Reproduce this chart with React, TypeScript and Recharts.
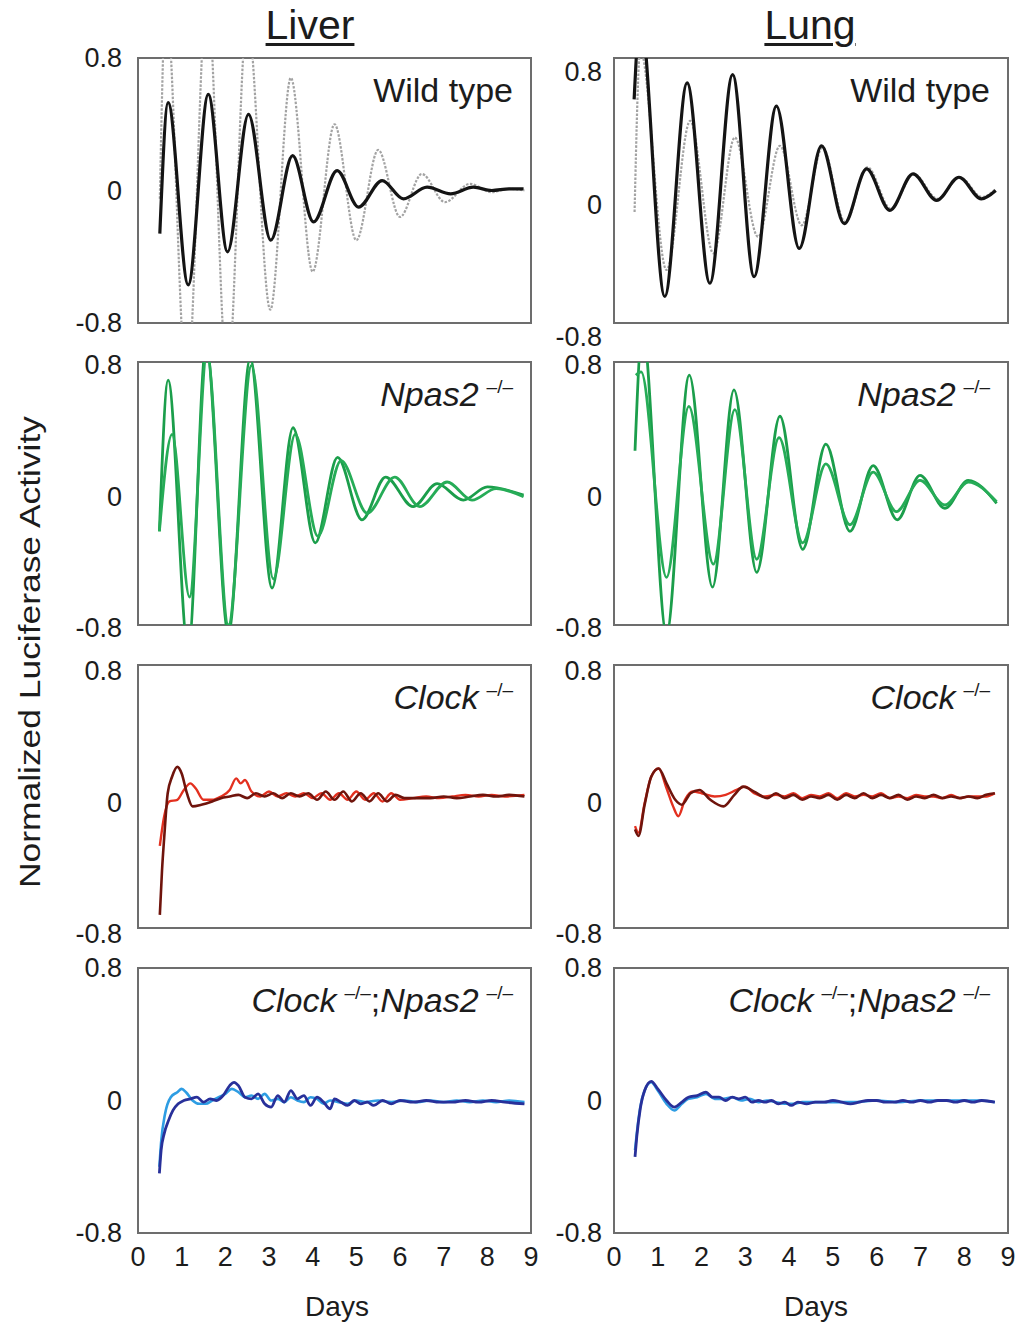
import React from "react";
import { LineChart, Line, XAxis, YAxis, ReferenceArea } from "recharts";

// [day, normalized value]
const LIVER_WT_GRAY = [[0.5,-0.05],[0.64,1.15],[1.12,-1.2],[1.58,1.2],[2.05,-1.15],[2.5,1.05],[3.03,-0.72],[3.5,0.68],[4.0,-0.49],[4.5,0.4],[5.0,-0.3],[5.5,0.245],[6.0,-0.16],[6.5,0.1],[7.03,-0.07],[7.6,0.04],[8.1,-0.01],[8.5,0.01],[8.85,0.0]];
const LIVER_WT_BLACK = [[0.5,-0.26],[0.69,0.53],[1.15,-0.57],[1.61,0.58],[2.05,-0.37],[2.53,0.46],[3.04,-0.3],[3.54,0.21],[4.02,-0.19],[4.56,0.12],[5.05,-0.1],[5.59,0.06],[6.08,-0.05],[6.62,0.02],[7.16,-0.02],[7.68,0.02],[8.1,0.0],[8.5,0.01],[8.83,0.01]];

const LUNG_WT_GRAY = [[0.47,-0.13],[0.6,0.85],[1.2,-0.48],[1.74,0.42],[2.27,-0.38],[2.76,0.32],[3.29,-0.28],[3.79,0.27],[4.29,-0.21],[4.76,0.26],[5.28,-0.19],[5.79,0.14],[6.32,-0.11],[6.85,0.1],[7.39,-0.05],[7.9,0.08],[8.41,-0.04],[8.72,0.01]];
const LUNG_WT_BLACK = [[0.46,0.55],[0.6,1.05],[1.16,-0.64],[1.67,0.65],[2.19,-0.56],[2.71,0.7],[3.2,-0.52],[3.71,0.51],[4.23,-0.35],[4.74,0.27],[5.26,-0.2],[5.77,0.13],[6.3,-0.12],[6.83,0.1],[7.37,-0.06],[7.88,0.08],[8.39,-0.05],[8.72,0.0]];

const LIVER_NPAS2_A = [[0.49,-0.23],[0.69,0.69],[1.15,-0.95],[1.56,0.9],[2.07,-0.85],[2.57,0.82],[3.07,-0.575],[3.55,0.4],[4.06,-0.3],[4.57,0.22],[5.13,-0.16],[5.67,0.1],[6.3,-0.08],[6.85,0.06],[7.45,-0.04],[8.0,0.04],[8.83,-0.01]];
const LIVER_NPAS2_B = [[0.49,-0.23],[0.78,0.36],[1.18,-0.63],[1.58,0.85],[2.07,-0.8],[2.6,0.78],[3.1,-0.52],[3.6,0.36],[4.12,-0.26],[4.65,0.2],[5.25,-0.12],[5.88,0.1],[6.45,-0.08],[7.08,0.07],[7.65,-0.04],[8.2,0.03],[8.83,-0.02]];

const LUNG_NPAS2_A = [[0.48,0.26],[0.65,1.0],[1.2,-0.85],[1.72,0.72],[2.25,-0.57],[2.74,0.63],[3.26,-0.48],[3.79,0.47],[4.31,-0.34],[4.84,0.3],[5.39,-0.23],[5.92,0.17],[6.47,-0.16],[6.99,0.11],[7.56,-0.09],[8.09,0.08],[8.74,-0.06]];
const LUNG_NPAS2_B = [[0.5,0.72],[0.62,0.74],[1.2,-0.51],[1.71,0.53],[2.27,-0.43],[2.76,0.51],[3.26,-0.4],[3.77,0.34],[4.31,-0.3],[4.84,0.18],[5.39,-0.19],[5.92,0.13],[6.45,-0.11],[6.99,0.08],[7.56,-0.07],[8.09,0.07],[8.74,-0.05]];

const LIVER_CLOCK_RED = [[0.5,-0.3],[0.6,-0.12],[0.72,-0.03],[0.9,-0.02],[1.05,0.04],[1.2,0.08],[1.32,0.05],[1.5,-0.02],[1.7,-0.02],[1.9,0.0],[2.1,0.04],[2.25,0.11],[2.35,0.08],[2.45,0.1],[2.6,0.03],[2.8,0.0],[3.0,0.03],[3.2,0.0],[3.4,0.02],[3.6,0.0],[3.8,0.02],[4.0,-0.01],[4.2,0.02],[4.4,-0.02],[4.6,0.02],[4.8,-0.02],[5.0,0.03],[5.2,-0.02],[5.4,0.02],[5.6,-0.03],[5.8,0.02],[6.0,-0.02],[6.3,-0.01],[6.6,0.0],[6.9,-0.01],[7.2,0.0],[7.5,0.01],[7.8,0.0],[8.1,0.01],[8.4,0.0],[8.85,0.01]];
const LIVER_CLOCK_DARK = [[0.5,-0.72],[0.55,-0.45],[0.6,-0.25],[0.68,0.02],[0.78,0.12],[0.9,0.18],[1.0,0.14],[1.12,0.02],[1.25,-0.06],[1.45,-0.05],[1.7,-0.03],[1.9,-0.01],[2.1,0.0],[2.3,0.01],[2.5,-0.01],[2.7,0.02],[2.9,0.0],[3.1,0.02],[3.3,-0.01],[3.5,0.02],[3.7,0.0],[3.9,0.02],[4.1,-0.02],[4.3,0.03],[4.5,-0.02],[4.7,0.03],[4.9,-0.03],[5.1,0.02],[5.3,-0.03],[5.5,0.02],[5.7,-0.03],[5.9,0.01],[6.1,-0.01],[6.4,-0.01],[6.7,-0.01],[7.0,0.0],[7.3,-0.01],[7.6,0.0],[7.9,0.01],[8.2,0.0],[8.5,0.01],[8.85,0.0]];

const LUNG_CLOCK_RED = [[0.48,-0.18],[0.56,-0.22],[0.7,-0.04],[0.85,0.12],[1.02,0.17],[1.2,0.05],[1.35,-0.06],[1.47,-0.12],[1.62,-0.02],[1.8,0.03],[2.0,0.02],[2.3,0.0],[2.55,0.01],[2.8,0.04],[3.0,0.06],[3.2,0.02],[3.45,0.0],[3.7,0.01],[3.9,0.0],[4.1,0.02],[4.3,-0.01],[4.5,0.01],[4.7,0.0],[4.9,0.02],[5.1,-0.01],[5.3,0.02],[5.5,0.0],[5.7,0.01],[5.9,0.0],[6.1,0.02],[6.3,-0.01],[6.5,0.0],[6.7,-0.01],[6.9,0.01],[7.1,0.0],[7.3,0.0],[7.5,-0.01],[7.7,0.01],[7.9,-0.01],[8.1,0.0],[8.3,0.0],[8.5,0.0],[8.7,0.02]];
const LUNG_CLOCK_DARK = [[0.48,-0.2],[0.56,-0.24],[0.7,-0.05],[0.85,0.12],[1.02,0.17],[1.2,0.08],[1.4,-0.02],[1.55,-0.05],[1.75,0.02],[1.95,0.04],[2.2,-0.02],[2.5,-0.06],[2.75,0.01],[2.95,0.06],[3.2,0.03],[3.5,-0.01],[3.7,0.02],[3.9,-0.01],[4.1,0.01],[4.3,-0.02],[4.5,0.0],[4.7,-0.01],[4.9,0.01],[5.1,-0.02],[5.3,0.01],[5.5,-0.01],[5.7,0.02],[5.9,-0.01],[6.1,0.01],[6.3,-0.01],[6.5,0.01],[6.7,-0.02],[6.9,0.0],[7.1,-0.01],[7.3,0.01],[7.5,-0.01],[7.7,0.0],[7.9,-0.01],[8.1,0.0],[8.3,-0.01],[8.5,0.01],[8.7,0.02]];

const LIVER_DKO_LIGHT = [[0.49,-0.4],[0.53,-0.25],[0.62,-0.08],[0.75,0.02],[0.9,0.05],[1.0,0.07],[1.1,0.05],[1.25,0.0],[1.4,-0.02],[1.55,-0.02],[1.7,0.0],[1.85,0.02],[2.0,0.04],[2.15,0.07],[2.3,0.05],[2.45,0.02],[2.6,0.03],[2.75,0.01],[2.9,0.04],[3.05,0.0],[3.2,0.01],[3.35,-0.01],[3.5,0.02],[3.65,0.0],[3.8,-0.01],[3.95,0.02],[4.1,0.01],[4.25,-0.02],[4.4,0.0],[4.6,-0.01],[4.8,-0.02],[5.0,0.0],[5.2,-0.01],[5.5,0.0],[5.8,-0.01],[6.1,0.0],[6.4,-0.01],[6.7,0.0],[7.0,-0.01],[7.3,0.0],[7.6,-0.01],[7.9,0.0],[8.2,-0.01],[8.5,0.0],[8.85,-0.01]];
const LIVER_DKO_DARK = [[0.49,-0.44],[0.53,-0.3],[0.6,-0.2],[0.7,-0.12],[0.8,-0.06],[0.92,-0.02],[1.05,0.0],[1.2,0.01],[1.35,0.02],[1.5,-0.01],[1.65,0.01],[1.8,0.0],[1.95,0.03],[2.1,0.09],[2.2,0.11],[2.3,0.09],[2.45,0.02],[2.6,0.01],[2.75,0.04],[2.9,-0.02],[3.05,-0.04],[3.2,0.03],[3.35,-0.01],[3.5,0.06],[3.65,0.01],[3.8,0.03],[3.95,-0.03],[4.1,0.02],[4.25,-0.01],[4.4,-0.05],[4.5,0.01],[4.65,-0.01],[4.8,-0.03],[4.95,0.0],[5.1,-0.02],[5.25,-0.01],[5.4,-0.03],[5.6,0.0],[5.8,-0.02],[6.0,0.0],[6.3,-0.01],[6.6,0.0],[6.9,-0.01],[7.2,-0.01],[7.5,0.0],[7.8,-0.01],[8.1,0.0],[8.4,-0.01],[8.85,-0.02]];

const LUNG_DKO_LIGHT = [[0.48,-0.3],[0.52,-0.2],[0.6,-0.04],[0.7,0.06],[0.85,0.11],[1.0,0.06],[1.2,-0.02],[1.38,-0.06],[1.55,-0.02],[1.7,0.01],[1.9,0.02],[2.1,0.04],[2.3,0.01],[2.5,0.01],[2.7,0.02],[2.9,0.0],[3.1,0.01],[3.3,-0.01],[3.5,0.0],[3.7,-0.01],[3.9,-0.02],[4.1,-0.02],[4.3,-0.01],[4.6,-0.01],[5.0,-0.01],[5.5,-0.01],[6.0,0.0],[6.5,-0.01],[7.0,0.0],[7.5,0.0],[8.0,0.0],[8.4,0.0],[8.7,-0.01]];
const LUNG_DKO_DARK = [[0.48,-0.34],[0.52,-0.22],[0.6,-0.05],[0.7,0.06],[0.85,0.115],[1.0,0.07],[1.2,0.0],[1.38,-0.04],[1.55,-0.01],[1.7,0.02],[1.9,0.03],[2.1,0.05],[2.25,0.02],[2.4,0.02],[2.55,0.0],[2.7,0.02],[2.85,0.01],[3.0,0.02],[3.15,-0.01],[3.3,0.0],[3.45,-0.01],[3.6,0.0],[3.75,-0.02],[3.9,-0.01],[4.05,-0.03],[4.2,-0.01],[4.4,-0.02],[4.6,-0.01],[4.8,-0.01],[5.0,0.0],[5.2,-0.01],[5.4,-0.02],[5.6,-0.01],[5.8,0.0],[6.0,0.0],[6.2,-0.01],[6.4,-0.01],[6.6,0.0],[6.8,-0.01],[7.0,0.0],[7.2,-0.01],[7.4,0.0],[7.6,0.0],[7.8,-0.01],[8.0,0.0],[8.2,-0.01],[8.4,0.0],[8.7,-0.01]];

const DAY_TICKS = [0, 1, 2, 3, 4, 5, 6, 7, 8, 9];
const Y_TICKS = [-0.8, 0, 0.8];

const FONT = "'Liberation Sans', Arial, Helvetica, sans-serif";
const FRAME = "#6d6d6d";
const TXT = "#1c1c1c";

const toPts = (arr: number[][]) => arr.map(([d, v]) => ({ d, v }));

const Sup = () => (
  <span style={{ fontSize: 19, position: "relative", top: -13, marginLeft: 8, fontStyle: "normal" }}>–/–</span>
);

const LABELS: Record<string, React.ReactNode> = {
  wt: <span>Wild type</span>,
  npas2: <span><i>Npas2</i><Sup /></span>,
  clock: <span><i>Clock</i><Sup /></span>,
  dko: <span><i>Clock</i><Sup />;<i>Npas2</i><Sup /></span>,
};

const COL_X = [138, 614];
const COL_W = [393, 394];
const ROW_Y = [58, 362, 665, 968];
const ROW_H = [265, 263, 263, 265];

const GRAY = { color: "#a3a3a3", width: 2.2, dash: "2.5 1.5" };
const BLACK = { color: "#141414", width: 3.2 };
const GREEN_A = { color: "#1b9e4b", width: 2.8 };
const GREEN_B = { color: "#26ac57", width: 2.8 };
const RED = { color: "#e3301f", width: 2.4 };
const DARKRED = { color: "#6f140c", width: 2.6 };
const LIGHTBLUE = { color: "#2e9de3", width: 2.6 };
const DARKBLUE = { color: "#28309a", width: 2.8 };

const PANELS = [
  { col: 0, row: 0, label: "wt", dy: 0, series: [{ data: LIVER_WT_GRAY, ...GRAY }, { data: LIVER_WT_BLACK, ...BLACK }] },
  { col: 1, row: 0, label: "wt", dy: 14, series: [{ data: LUNG_WT_GRAY, ...GRAY }, { data: LUNG_WT_BLACK, ...BLACK }] },
  { col: 0, row: 1, label: "npas2", dy: 3, series: [{ data: LIVER_NPAS2_A, ...GREEN_A }, { data: LIVER_NPAS2_B, ...GREEN_B }] },
  { col: 1, row: 1, label: "npas2", dy: 3, series: [{ data: LUNG_NPAS2_A, ...GREEN_A }, { data: LUNG_NPAS2_B, ...GREEN_B }] },
  { col: 0, row: 2, label: "clock", dy: 6, series: [{ data: LIVER_CLOCK_RED, ...RED }, { data: LIVER_CLOCK_DARK, ...DARKRED }] },
  { col: 1, row: 2, label: "clock", dy: 6, series: [{ data: LUNG_CLOCK_RED, ...RED }, { data: LUNG_CLOCK_DARK, ...DARKRED }] },
  { col: 0, row: 3, label: "dko", dy: 0, series: [{ data: LIVER_DKO_LIGHT, ...LIGHTBLUE }, { data: LIVER_DKO_DARK, ...DARKBLUE }] },
  { col: 1, row: 3, label: "dko", dy: 0, series: [{ data: LUNG_DKO_LIGHT, ...LIGHTBLUE }, { data: LUNG_DKO_DARK, ...DARKBLUE }] },
];

const fmtY = (v: number) => (v === 0 ? "0" : v.toFixed(1));

function Panel({ p }: { p: any }) {
  const x = COL_X[p.col];
  const w = COL_W[p.col];
  const y = ROW_Y[p.row];
  const h = ROW_H[p.row];
  const bottom = p.row === 3;
  const mL = 100;
  const mT = 26;
  const mR = 14;
  const mB = 26;
  const xH = bottom ? 50 : 0;
  const chartH = mT + h + xH + mB;

  return (
    <div style={{ position: "absolute", left: x - mL, top: y - mT }}>
      <LineChart width={mL + w + mR} height={chartH} margin={{ top: mT, right: mR, bottom: mB, left: 0 }}>
        <XAxis
          dataKey="d"
          type="number"
          domain={[0, 9]}
          ticks={DAY_TICKS}
          allowDataOverflow
          height={xH}
          tickLine={false}
          tickSize={4}
          tickMargin={4}
          axisLine={{ stroke: FRAME, strokeWidth: 2 }}
          tick={
            bottom
              ? (t: any) => (
                  <text x={t.x} y={t.y + 16} textAnchor="middle" dominantBaseline="central" fontSize={27} fontFamily={FONT} fill={TXT}>
                    {t.payload.value}
                  </text>
                )
              : false
          }
        />
        <YAxis
          type="number"
          domain={[-0.8, 0.8]}
          ticks={Y_TICKS}
          allowDataOverflow
          width={mL}
          tickLine={false}
          tickSize={6}
          tickMargin={p.col === 0 ? 10 : 6}
          axisLine={{ stroke: FRAME, strokeWidth: 2 }}
          tick={(t: any) => (
            <text x={t.x} y={t.y + p.dy} textAnchor="end" dominantBaseline="central" fontSize={27} fontFamily={FONT} fill={TXT}>
              {fmtY(t.payload.value)}
            </text>
          )}
        />
        {p.series.map((s: any, i: number) => (
          <Line
            key={i}
            data={toPts(s.data)}
            dataKey="v"
            type="monotone"
            stroke={s.color}
            strokeWidth={s.width}
            strokeDasharray={s.dash}
            dot={false}
            isAnimationActive={false}
          />
        ))}
        <ReferenceArea x1={0} x2={9} y1={-0.8} y2={0.8} fill="none" fillOpacity={0} stroke={FRAME} strokeWidth={2} />
      </LineChart>
      <div
        style={{
          position: "absolute",
          right: mR + 18,
          top: mT + 12,
          fontSize: 34,
          lineHeight: "40px",
          fontFamily: FONT,
          color: TXT,
          whiteSpace: "nowrap",
        }}
      >
        {LABELS[p.label]}
      </div>
    </div>
  );
}

export default function App() {
  return (
    <div style={{ position: "absolute", left: 0, top: 0, width: 1024, height: 1326, background: "#fff", fontFamily: FONT, color: TXT }}>
      <div style={{ position: "absolute", left: 310, top: 2, transform: "translateX(-50%)", fontSize: 41, lineHeight: "46px", textDecoration: "underline", textUnderlineOffset: 4, textDecorationThickness: 3 }}>
        Liver
      </div>
      <div style={{ position: "absolute", left: 810, top: 2, transform: "translateX(-50%)", fontSize: 41, lineHeight: "46px", textDecoration: "underline", textUnderlineOffset: 4, textDecorationThickness: 3 }}>
        Lung
      </div>
      <div style={{ position: "absolute", left: 30, top: 652, transform: "translate(-50%, -50%) rotate(-90deg) scaleX(1.22)", fontSize: 29, whiteSpace: "nowrap" }}>
        Normalized Luciferase Activity
      </div>
      {PANELS.map((p, i) => (
        <Panel key={i} p={p} />
      ))}
      <div style={{ position: "absolute", left: 337, top: 1307, transform: "translate(-50%, -50%)", fontSize: 28 }}>Days</div>
      <div style={{ position: "absolute", left: 816, top: 1307, transform: "translate(-50%, -50%)", fontSize: 28 }}>Days</div>
    </div>
  );
}
